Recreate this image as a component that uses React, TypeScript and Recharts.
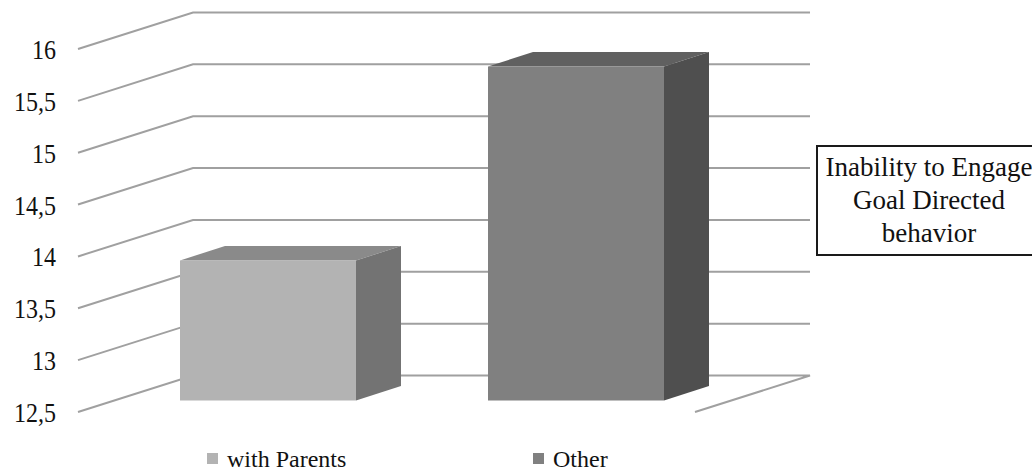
import React from 'react';
import { BarChart, Bar, XAxis, YAxis, CartesianGrid, Legend } from 'recharts';

// Data
const CATEGORIES = ['Inability to Engage Goal Directed behavior'];
const SERIES_NAMES = ['with Parents', 'Other'];
const WITH_PARENTS = [13.85];
const OTHER = [15.72];
const Y_TICKS = [12.5, 13, 13.5, 14, 14.5, 15, 15.5, 16];

const data = CATEGORIES.map((name, i) => ({
  name,
  withParents: WITH_PARENTS[i],
  other: OTHER[i],
}));

// Layout
const CHART_W = 1032;
const CHART_H = 474;
const MARGIN = { top: 49, right: 337, bottom: 62, left: 0 };
const PLOT_BOTTOM = CHART_H - MARGIN.bottom;
const FONT = "'Liberation Serif', 'Times New Roman', serif";
const TEXT_COLOR = '#111111';
const GRID_COLOR = '#a0a0a0';

// 3D projection: back wall offset and box depth
const WALL_DX = 115;
const WALL_DY = 36.5;
const BAR_SHIFT_X = 35;
const BAR_SHIFT_Y = 11.5;
const BAR_DX = 45;
const BAR_DY = 14.5;

const LEGEND_X = [207, 533];

const FACES = {
  withParents: { front: '#b3b3b3', top: '#8a8a8a', side: '#737373' },
  other: { front: '#808080', top: '#606060', side: '#4f4f4f' },
};

const fmt = (v: number) => String(v).replace('.', ',');

const makeBox = (c: { front: string; top: string; side: string }) => (props: any) => {
  const { x, y, width, height } = props;
  if (width == null || height == null) return <g />;
  const fx = x + BAR_SHIFT_X;
  const fy = y - BAR_SHIFT_Y;
  const w = width;
  const h = height;
  const top = `${fx},${fy} ${fx + BAR_DX},${fy - BAR_DY} ${fx + w + BAR_DX},${fy - BAR_DY} ${fx + w},${fy}`;
  const side = `${fx + w},${fy} ${fx + w + BAR_DX},${fy - BAR_DY} ${fx + w + BAR_DX},${fy + h - BAR_DY} ${fx + w},${fy + h}`;
  return (
    <g>
      <polygon points={top} fill={c.top} />
      <polygon points={side} fill={c.side} />
      <rect x={fx} y={fy} width={w} height={h} fill={c.front} />
    </g>
  );
};

// Each grid line runs along the left wall, then across the back wall;
// the floor line also closes the floor on the right.
const gridLine = (p: any) => {
  const { x1, y1, x2 } = p;
  const pts: number[][] = [
    [x1, y1],
    [x1 + WALL_DX, y1 - WALL_DY],
    [x2 + WALL_DX, y1 - WALL_DY],
  ];
  if (Math.abs(y1 - PLOT_BOTTOM) < 1) pts.push([x2, y1]);
  return (
    <polyline
      key={p.key}
      points={pts.map((q) => q.join(',')).join(' ')}
      fill="none"
      stroke={GRID_COLOR}
      strokeWidth={2}
    />
  );
};

const YTick = (p: any) => {
  const { x, y, payload } = p;
  return (
    <g transform={`translate(${x}, ${y}) scale(1, 1.15)`}>
      <text
        x={0}
        y={0}
        dy="0.36em"
        textAnchor="end"
        style={{ fontFamily: FONT, fontSize: 24, fill: TEXT_COLOR }}
      >
        {fmt(payload.value)}
      </text>
    </g>
  );
};

const LegendContent = (p: any) => {
  const items = [...(p.payload || [])].sort(
    (a: any, b: any) => SERIES_NAMES.indexOf(a.value) - SERIES_NAMES.indexOf(b.value)
  );
  return (
    <svg width={CHART_W} height={34} style={{ display: 'block' }}>
      {items.map((e: any, i: number) => (
        <g key={e.value}>
          <rect x={LEGEND_X[i]} y={13} width={11} height={11} fill={e.color} />
          <text
            x={LEGEND_X[i] + 20}
            y={27}
            style={{ fontFamily: FONT, fontSize: 24, fill: TEXT_COLOR }}
          >
            {e.value}
          </text>
        </g>
      ))}
    </svg>
  );
};

export default function App() {
  return (
    <div
      style={{
        position: 'absolute',
        left: 0,
        top: 0,
        width: CHART_W,
        height: CHART_H,
        overflow: 'hidden',
        background: '#ffffff',
      }}
    >
      <BarChart
        width={CHART_W}
        height={CHART_H}
        data={data}
        margin={MARGIN}
        barCategoryGap={67}
        barGap={132}
      >
        <CartesianGrid vertical={false} horizontal={gridLine} />
        <XAxis dataKey="name" hide />
        <YAxis
          domain={[12.5, 16]}
          ticks={Y_TICKS}
          interval={0}
          width={78}
          axisLine={false}
          tickLine={false}
          tickSize={0}
          tickMargin={22}
          tick={<YTick />}
        />
        <Legend
          layout="horizontal"
          verticalAlign="middle"
          align="center"
          itemSorter={null}
          wrapperStyle={{ left: 0, top: 440, width: CHART_W, margin: 0 }}
          content={<LegendContent />}
        />
        <Bar
          dataKey="withParents"
          name={SERIES_NAMES[0]}
          fill={FACES.withParents.front}
          shape={makeBox(FACES.withParents)}
          isAnimationActive={false}
        />
        <Bar
          dataKey="other"
          name={SERIES_NAMES[1]}
          fill={FACES.other.front}
          shape={makeBox(FACES.other)}
          isAnimationActive={false}
        />
      </BarChart>
      <div
        style={{
          position: 'absolute',
          left: 816,
          top: 145,
          width: 226,
          height: 111,
          boxSizing: 'border-box',
          border: '2px solid #1a1a1a',
          padding: '4px 2px 0 2px',
          fontFamily: FONT,
          fontSize: 27,
          lineHeight: '33px',
          color: TEXT_COLOR,
          textAlign: 'center',
          background: '#ffffff',
        }}
      >
        {CATEGORIES[0]}
      </div>
    </div>
  );
}
